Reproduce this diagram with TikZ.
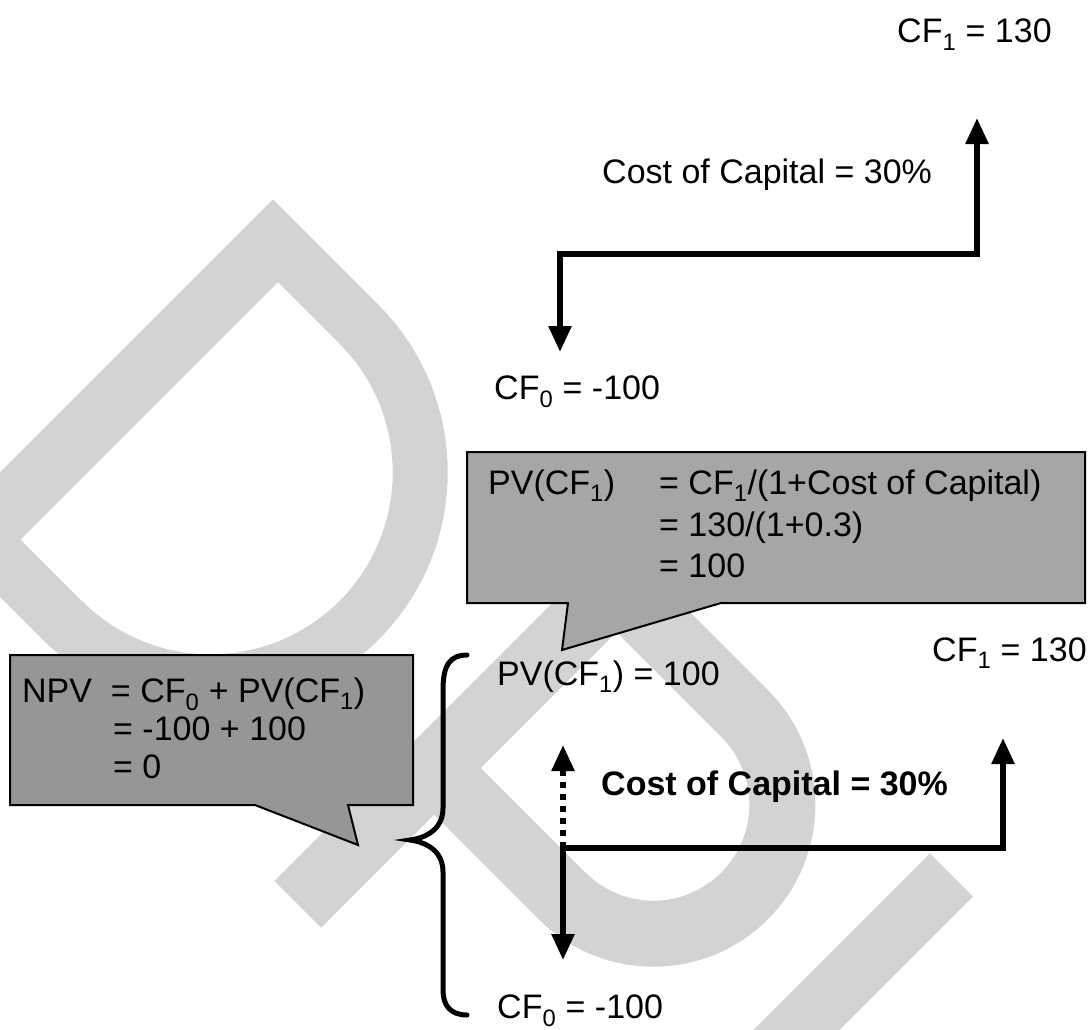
\documentclass[tikz,border=0pt]{standalone}
\usepackage{fontspec}
\setmainfont{Liberation Sans}
\usetikzlibrary{arrows.meta}
\definecolor{wmgray}{RGB}{211,211,211}
\definecolor{pvgray}{RGB}{166,166,166}
\definecolor{npvgray}{RGB}{150,150,150}

\begin{document}
\begin{tikzpicture}[x=1pt, y=-1pt,
    font=\fontsize{34}{40}\selectfont,
    lbl/.style={anchor=base west, inner sep=0pt},
    flowboth/.style={line width=5.5pt, line join=miter, {Triangle[length=26pt,width=22pt]}-{Triangle[length=26pt,width=22pt]}},
    dotflow/.style={line width=5.5pt, dash pattern=on 6pt off 6pt, -{Triangle[length=26pt,width=22pt]}},
    bubble/.style={draw=black, line width=2pt},
    wmark/.style={fill=wmgray, even odd rule},
    brace/.style={line width=5pt, line cap=round}
]
\useasboundingbox (0,0) rectangle (1089,1030);

% ============ WATERMARK ============
\begin{scope}
  \clip (0,0) rectangle (1089,1030);
  \begin{scope}[x={(0.7071pt,-0.7071pt)}, y={(-0.7071pt,-0.7071pt)}]
    % upper D
    \fill[wmark] (334,-52) -- (483,-52) arc[start angle=-90, end angle=90, radius=237] -- (334,422) -- cycle
                 (396,3) -- (483,3) arc[start angle=-90, end angle=90, radius=182] -- (396,367) -- cycle;
    % lower P
    \fill[wmark] (817,-55) -- (1031,-55) arc[start angle=-90, end angle=90, radius=162] -- (883,269) -- (883,429) -- (817,429) -- cycle
                 (883,11) -- (1031,11) arc[start angle=-90, end angle=90, radius=96] -- (883,203) -- cycle;
    % stem
    \fill[wmark] (1261,-54) -- (1322,-54) -- (1322,460) -- (1261,460) -- cycle;
  \end{scope}
\end{scope}

% ============ TOP TIMELINE ============
\node[lbl] (cf1top) at (897,43) {CF\textsubscript{1} = 130};
\node[lbl] (coctop) at (602,183) {Cost of Capital = 30\%};
\node[lbl] (cf0top) at (494,399) {CF\textsubscript{0} = -100};

\coordinate (t0) at (560,254);
\coordinate (t1) at (977,254);
\coordinate (t0end) at (560,352);
\coordinate (t1end) at (977,118);
\draw[flowboth] (t0end) -- (t0) -- (t1) -- (t1end);

% ============ PV CALLOUT ============
\draw[bubble, fill=pvgray] (467,452) -- (1085,452) -- (1085,603) -- (721,603) -- (562,650) -- (568,603) -- (467,603) -- cycle;
\node[lbl] (pvlhs) at (488,494) {PV(CF\textsubscript{1})};
\node[lbl] (pvr1) at (659,494) {= CF\textsubscript{1}/(1+Cost of Capital)};
\node[lbl] (pvr2) at (659,536) {= 130/(1+0.3)};
\node[lbl] (pvr3) at (659,577) {= 100};

% ============ NPV CALLOUT ============
\draw[bubble, fill=npvgray] (10,655) -- (413,655) -- (413,805) -- (348,805) -- (358,845) -- (255,805) -- (10,805) -- cycle;
\node[lbl] (npv1) at (22,702) {NPV \ = CF\textsubscript{0} + PV(CF\textsubscript{1})};
\node[lbl] (npv2) at (113,740) {= -100 + 100};
\node[lbl] (npv3) at (113,778) {= 0};

% brace
\draw[brace] (467,655) .. controls (450,655) and (443,665) .. (443,690) -- (443,808)
  .. controls (443,830) and (425,838) .. (410,840) .. controls (425,842) and (443,850) .. (443,872)
  -- (443,990) .. controls (443,1005) and (450,1015) .. (467,1015);

% ============ BOTTOM TIMELINE ============
\node[lbl] (pvres) at (497,685) {PV(CF\textsubscript{1}) = 100};
\node[lbl] (cf1bot) at (932,661) {CF\textsubscript{1} = 130};
\node[lbl, font=\fontsize{34}{40}\selectfont\bfseries] (cocbot) at (601,795) {Cost of Capital = 30\%};
\node[lbl] (cf0bot) at (497,1018) {CF\textsubscript{0} = -100};

\coordinate (b0) at (563,848);
\coordinate (b1) at (1003,848);
\coordinate (b0down) at (563,960);
\coordinate (b0up) at (563,745);
\coordinate (b1end) at (1003,738);
\draw[flowboth] (b0down) -- (b0) -- (b1) -- (b1end);
\draw[dotflow] (b0) -- (b0up);

\end{tikzpicture}
\end{document}
